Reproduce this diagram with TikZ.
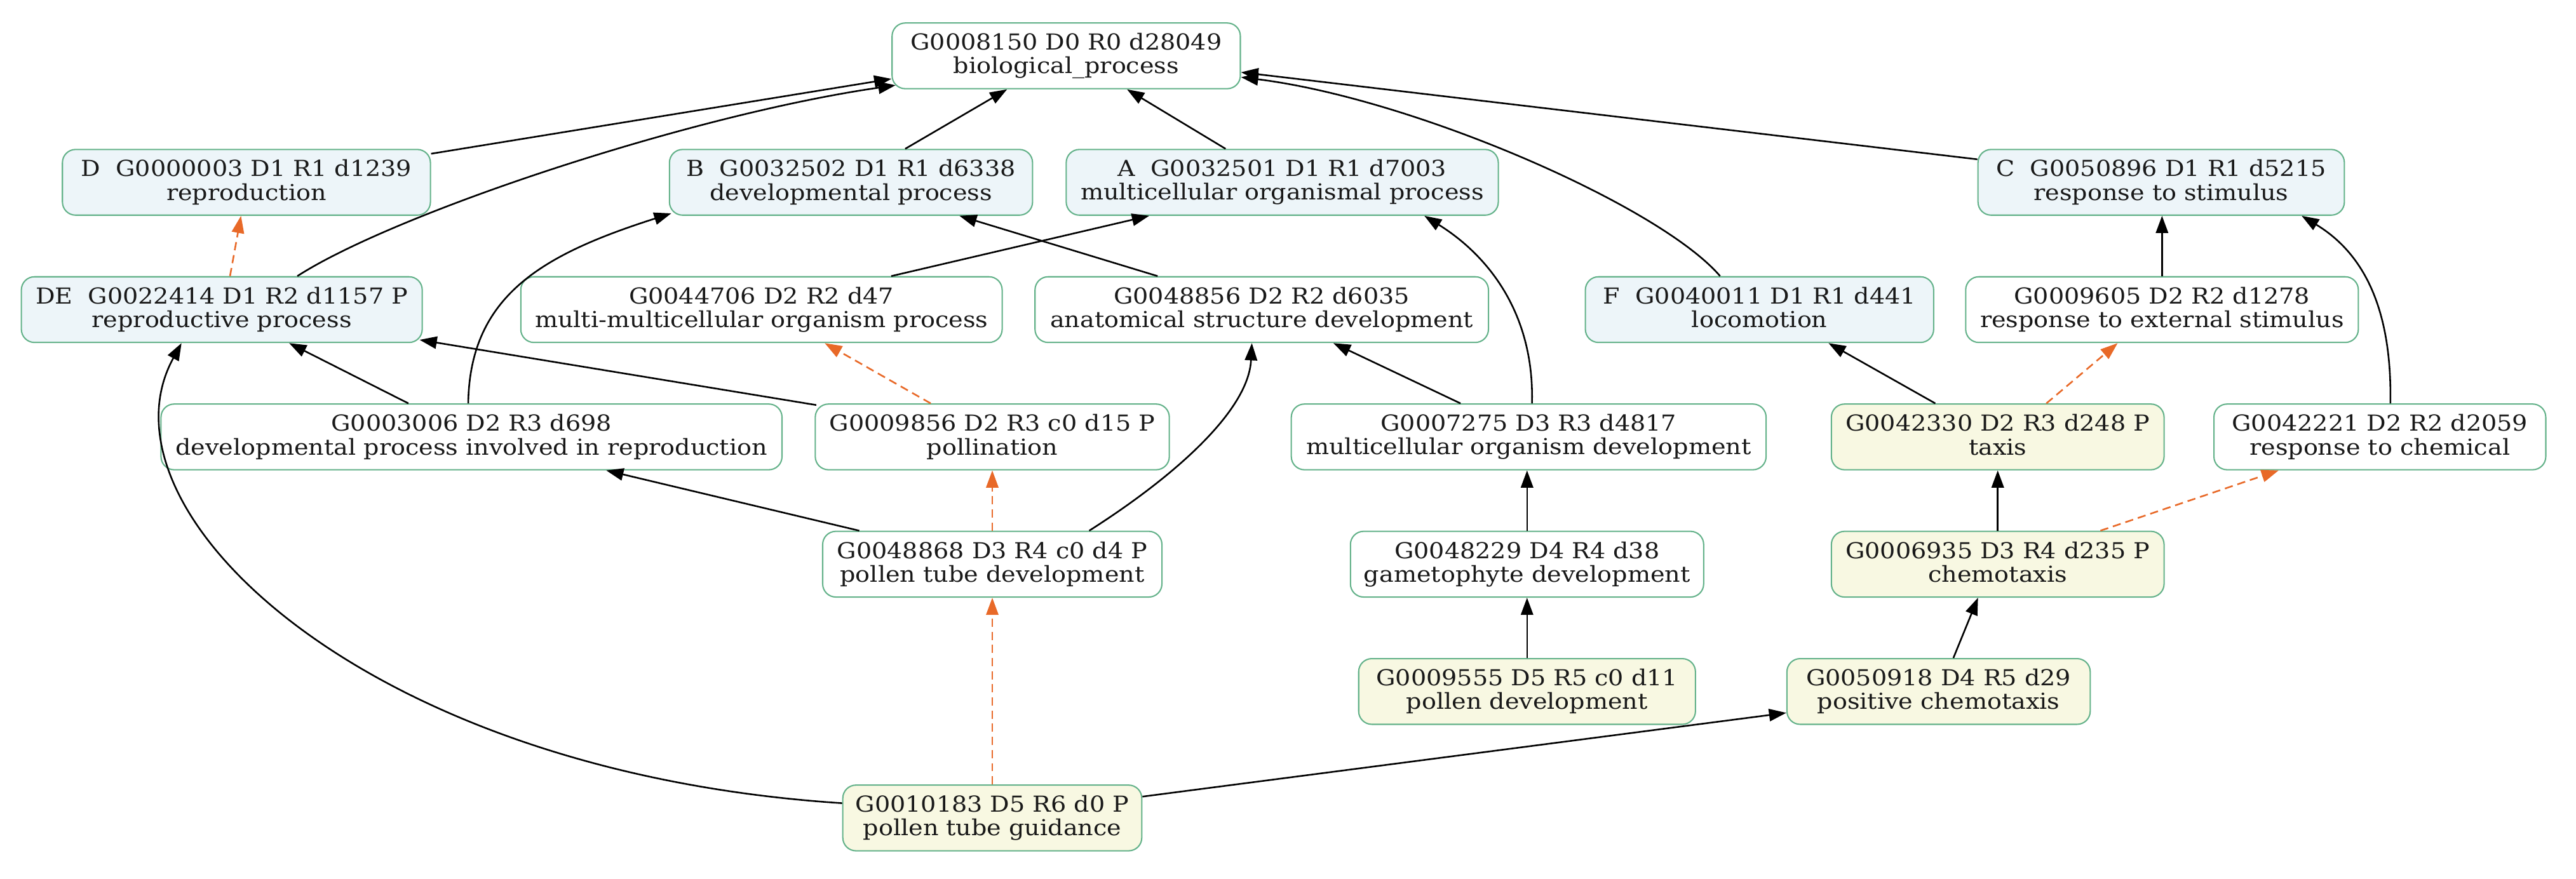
\documentclass[tikz,border=0pt]{standalone}
\usepackage{fontspec}
\setmainfont{DejaVu Serif}[FakeStretch=1.1]
\usetikzlibrary{calc,arrows.meta}
\definecolor{boxgreen}{RGB}{100,178,138}
\definecolor{boxblue}{RGB}{237,245,249}
\definecolor{boxyellow}{RGB}{248,248,226}
\definecolor{deporange}{RGB}{232,105,40}
\newcommand{\twol}[2]{#1\\#2\vphantom{p}}
\newcommand{\gofont}{\fontsize{13.4pt}{14.4pt}\selectfont}
\tikzset{
  gobox/.style={draw=boxgreen, line width=0.8pt, rounded corners=8pt, inner sep=0pt,
    align=center, font=\gofont, minimum height=40pt, text=black!90},
  bluebox/.style={gobox, fill=boxblue, minimum width=#1},
  whitebox/.style={gobox, fill=white, minimum width=#1},
  yellowbox/.style={gobox, fill=boxyellow, minimum width=#1},
  isa/.style={-{Triangle[length=10.5pt,width=7.5pt]}, line width=1pt, draw=black},
  dep/.style={-{Triangle[length=10.5pt,width=7.5pt]}, line width=1pt, draw=deporange,
    dash pattern=on 5pt off 3pt},
}
\begin{document}
\begin{tikzpicture}[x=1pt,y=1pt]
\useasboundingbox (0,0) rectangle (1568,-535);
% row 0
\node[whitebox=212pt] (root) at (649,-34) {\twol{G0008150 D0 R0 d28049}{biological\_process}};
% row 1
\node[bluebox=224pt] (D) at (150,-111) {\twol{D\ \ G0000003 D1 R1 d1239}{reproduction}};
\node[bluebox=221pt] (B) at (518,-111) {\twol{B\ \ G0032502 D1 R1 d6338}{developmental process}};
\node[bluebox=263pt] (A) at (780.5,-111) {\twol{A\ \ G0032501 D1 R1 d7003}{multicellular organismal process}};
\node[bluebox=223pt] (C) at (1315.5,-111) {\twol{C\ \ G0050896 D1 R1 d5215}{response to stimulus}};
% row 2
\node[bluebox=244pt] (DE) at (135,-188.5) {\twol{DE\ \ G0022414 D1 R2 d1157 P}{reproductive process}};
\node[whitebox=293pt] (n44706) at (463.5,-188.5) {\twol{G0044706 D2 R2 d47}{multi-multicellular organism process}};
\node[whitebox=276pt] (n48856) at (768,-188.5) {\twol{G0048856 D2 R2 d6035}{anatomical structure development}};
\node[bluebox=212pt] (F) at (1071,-188.5) {\twol{F\ \ G0040011 D1 R1 d441}{locomotion}};
\node[whitebox=239pt] (n9605) at (1316,-188.5) {\twol{G0009605 D2 R2 d1278}{response to external stimulus}};
% row 3
\node[whitebox=378pt] (n3006) at (287,-266) {\twol{G0003006 D2 R3 d698}{developmental process involved in reproduction}};
\node[whitebox=215.5pt] (n9856) at (604,-266) {\twol{G0009856 D2 R3 c0 d15 P}{pollination}};
\node[whitebox=289pt] (n7275) at (930.5,-266) {\twol{G0007275 D3 R3 d4817}{multicellular organism development}};
\node[yellowbox=202.5pt] (n42330) at (1216,-266) {\twol{G0042330 D2 R3 d248 P}{taxis}};
\node[whitebox=202pt] (n42221) at (1448.6,-266) {\twol{G0042221 D2 R2 d2059}{response to chemical}};
% row 4
\node[whitebox=206.5pt] (n48868) at (604,-343.5) {\twol{G0048868 D3 R4 c0 d4 P}{pollen tube development}};
\node[whitebox=215pt] (n48229) at (929.5,-343.5) {\twol{G0048229 D4 R4 d38}{gametophyte development}};
\node[yellowbox=202.5pt] (n6935) at (1216,-343.5) {\twol{G0006935 D3 R4 d235 P}{chemotaxis}};
% row 5
\node[yellowbox=205pt] (n9555) at (929.5,-421) {\twol{G0009555 D5 R5 c0 d11}{pollen development}};
\node[yellowbox=184.6pt] (n50918) at (1180,-421) {\twol{G0050918 D4 R5 d29}{positive chemotaxis}};
% row 6
\node[yellowbox=182pt] (n10183) at (604,-498) {\twol{G0010183 D5 R6 d0 P}{pollen tube guidance}};

% edges to root
\draw[isa] ($(D.north east)+(0,-3)$) -- ($(root.west)+(0,-14)$);
\draw[isa] ($(DE.north)+(46,0)$) .. controls (240,-130) and (420,-70) .. ($(root.south west)+(2.5,2.5)$);
\draw[isa] ($(B.north)+(33,0)$) -- ($(root.south)+(-36,0)$);
\draw[isa] ($(A.north)+(-34.5,0)$) -- ($(root.south)+(37,0)$);
\draw[isa] ($(F.north)+(-24,0)$) .. controls (1010,-125) and (860,-60) .. ($(root.east)+(0,-13)$);
\draw[isa] ($(C.west)+(0,14)$) -- ($(root.east)+(0,-10)$);
% row 2 -> row 1
\draw[dep] ($(DE.north)+(5,0)$) -- ($(D.south)+(-3.3,0)$);
\draw[isa] ($(n44706.north)+(79,0)$) -- ($(A.south)+(-81,0)$);
\draw[isa] ($(n48856.north)+(-63.4,0)$) -- ($(B.south)+(66,0)$);
\draw[isa] ($(n42330.north)+(-38,0)$) -- ($(F.south)+(42,0)$);
\draw[isa] (n9605.north) -- (n9605.north |- C.south);
% row 3 -> upper
\draw[isa] ($(n7275.north)+(2,0)$) .. controls (934,-190) and (905,-155) .. ($(A.south)+(86.5,0)$);
\draw[isa] ($(n3006.north)+(-2,0)$) .. controls (286,-180) and (330,-155) .. ($(B.south west)+(1.5,1.5)$);
\draw[isa] ($(n3006.north)+(-38.4,0)$) -- ($(DE.south)+(41,0)$);
\draw[isa] ($(n9856.north west)+(1,-1)$) -- ($(DE.south east)+(-2,2)$);
\draw[dep] ($(n9856.north)+(-37.5,0)$) -- ($(n44706.south)+(38.5,0)$);
\draw[isa] ($(n7275.north)+(-41.5,0)$) -- ($(n48856.south)+(43.6,0)$);
\draw[dep] ($(n42330.north)+(29.6,0)$) -- ($(n9605.south)+(-27,0)$);
\draw[isa] ($(n42221.north)+(6.4,0)$) .. controls (1456,-190) and (1440,-155) .. ($(C.south)+(85.5,0)$);
% row 4 -> upper
\draw[isa] ($(n48868.north)+(-81,0)$) -- ($(n3006.south)+(82,0)$);
\draw[dep] (n48868.north) -- (n9856.south);
\draw[isa] ($(n48868.north)+(59,0)$) .. controls (715,-290) and (760,-250) .. ($(n48856.south)+(-6,0)$);
\draw[isa] (n48229.north) -- (n48229.north |- n7275.south);
\draw[isa] (n6935.north) -- (n6935.north |- n42330.south);
\draw[dep] ($(n6935.north)+(62.5,0)$) -- ($(n42221.south)+(-61.6,0)$);
% row 5 -> upper
\draw[isa] (n9555.north) -- (n9555.north |- n48229.south);
\draw[isa] ($(n50918.north)+(9,0)$) -- ($(n6935.south)+(-12,0)$);
% row 6 -> upper
\draw[isa] ($(n10183.west)+(0,9)$) .. controls (220,-470) and (55,-310) .. ($(DE.south)+(-24.5,0)$);
\draw[isa] ($(n10183.east)+(0,13)$) -- ($(n50918.west)+(0,-13)$);
\draw[dep] (n10183.north) -- (n10183.north |- n48868.south);
\end{tikzpicture}
\end{document}
